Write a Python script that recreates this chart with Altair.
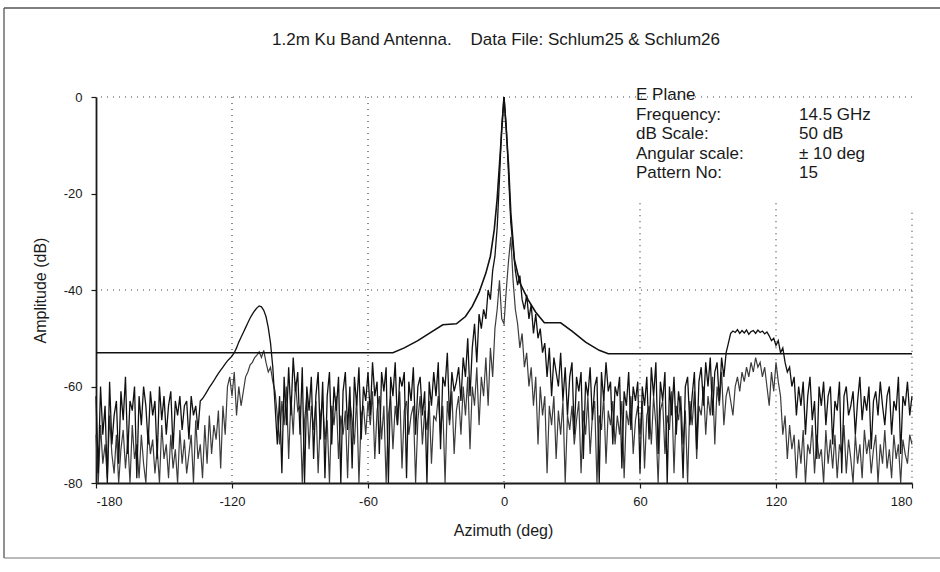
import altair as alt
import pandas as pd

# ---------------- data ----------------
azimuth = list(range(-180, 181))

# trace 1 (Schlum25) - main beam trace, 1 deg steps from -180 to 180
trace1 = [
    -62, -78, -60, -70, -64, -80, -59, -72, -66, -63,      # -180
    -76, -61, -67, -58, -74, -63, -65, -60, -79, -62,      # -170
    -68, -60, -64, -72, -61, -66, -63, -75, -60, -67,      # -160
    -62, -70, -64, -61, -73, -63, -66, -62, -69, -64,      # -150
    -63, -71, -62, -66, -64, -69, -63, -62.5, -61.8, -61,  # -140
    -60.2, -59.5, -58.8, -58, -57.3, -56.6, -56, -55.3, -54.7, -54.2,  # -130
    -53.7, -53, -52, -50.8, -49.8, -48.8, -47.8, -46.8, -45.8, -45,    # -120
    -44.3, -43.7, -43.3, -43.5, -44.2, -45.5, -47.8, -51, -56, -64,    # -110
    -72, -62, -78, -58, -68, -56, -66, -54, -61, -57,      # -100
    -70, -56, -80, -60, -65, -58, -75, -62, -57, -71,      # -90
    -59, -79, -62, -57, -72, -60, -65, -58, -80, -61,      # -80
    -57, -69, -60, -77, -58, -64, -56, -71, -60, -63,      # -70
    -57, -66, -55, -62, -59, -74, -57, -61, -56, -80,      # -60
    -58, -62, -55, -68, -58, -60, -57, -79, -59, -63,      # -50
    -56, -70, -60, -58, -66, -61, -80, -59, -64, -57,      # -40
    -62, -55, -73, -58, -60, -53, -67, -57, -61, -59,      # -30
    -56, -63, -54, -58, -50, -62, -52, -47, -55, -45,      # -20
    -48, -44, -46, -40, -42, -36, -33, -27, -17, -6,       # -10
    0, -6, -16, -26, -31, -36, -39, -37, -42, -44,         # 0
    -41, -46, -43, -49, -45, -50, -48, -53, -51, -58,      # 10
    -52, -62, -54, -57, -60, -53, -63, -56, -66, -58,      # 20
    -55, -70, -58, -61, -57, -75, -59, -62, -56, -67,      # 30
    -60, -58, -80, -57, -63, -55, -61, -59, -72, -60,      # 40
    -62, -58, -77, -61, -64, -57, -69, -60, -63, -59,      # 50
    -78, -60, -64, -58, -71, -56, -62, -55, -74, -59,      # 60
    -63, -57, -80, -60, -66, -58, -70, -61, -65, -79,      # 70
    -60, -58, -68, -62, -57, -73, -59, -56, -64, -55,      # 80
    -60, -54, -66, -57, -55, -63, -54, -58, -53, -51,      # 90
    -49, -48.5, -48.8, -48.2, -49, -48.4, -48.9, -48.3, -49.2, -48.6,  # 100
    -48.4, -49, -48.3, -48.8, -48.5, -49.1, -48.7, -49.5, -50.5, -50,  # 110
    -51.5, -50.5, -53, -52, -55, -57, -56, -60, -58, -66,  # 120
    -60, -64, -59, -70, -62, -58, -67, -63, -75, -60,      # 130
    -64, -59, -68, -62, -60, -72, -63, -65, -59, -78,      # 140
    -62, -60, -66, -64, -61, -70, -63, -58, -67, -62,      # 150
    -65, -60, -73, -63, -61, -66, -59, -64, -68, -62,      # 160
    -60, -70, -63, -65, -58, -74, -62, -64, -59, -66,      # 170
    -62,                                                   # 180
]

# trace 2 (Schlum26) - lower trace
trace2 = [
    -70, -80, -68, -76, -72, -79, -66, -74, -78, -70,      # -180
    -80, -73, -69, -77, -71, -80, -68, -75, -72, -79,      # -170
    -70, -76, -80, -69, -74, -71, -78, -73, -80, -68,      # -160
    -75, -72, -79, -70, -77, -73, -80, -69, -76, -71,      # -150
    -78, -74, -70, -80, -67, -75, -72, -79, -68, -76,      # -140
    -66, -74, -68, -71, -65, -77, -64, -70, -60, -58,      # -130
    -62, -57, -66, -60, -64, -61, -58, -57, -55.5, -55,    # -120
    -54, -53.5, -52.8, -54, -52.5, -55, -57, -56, -59, -61,  # -110
    -66, -72, -63, -68, -60, -75, -62, -70, -59, -65,      # -100
    -64, -80, -67, -62, -73, -64, -69, -63, -78, -66,      # -90
    -63, -71, -67, -80, -64, -68, -62, -75, -66, -70,      # -80
    -65, -79, -63, -67, -72, -62, -80, -66, -64, -70,      # -70
    -63, -68, -61, -75, -65, -62, -71, -64, -80, -66,      # -60
    -62, -73, -64, -68, -61, -77, -65, -63, -70, -66,      # -50
    -64, -80, -67, -62, -72, -65, -69, -63, -76, -66,      # -40
    -67, -62, -70, -64, -80, -63, -68, -61, -74, -65,      # -30
    -62, -70, -60, -66, -58, -73, -60, -64, -56, -68,      # -20
    -58, -62, -54, -64, -52, -58, -48, -44, -38, -46,      # -10
    -47, -40, -34, -29, -38, -44, -47, -52, -49, -56,      # 0
    -53, -60, -56, -64, -58, -72, -60, -66, -62, -78,      # 10
    -64, -68, -62, -75, -65, -70, -63, -80, -66, -69,      # 20
    -64, -72, -67, -63, -78, -65, -70, -62, -74, -66,      # 30
    -63, -80, -66, -69, -62, -76, -65, -68, -63, -72,      # 40
    -66, -70, -63, -79, -65, -68, -62, -74, -67, -64,      # 50
    -70, -63, -77, -66, -64, -72, -62, -68, -80, -65,      # 60
    -63, -74, -66, -69, -61, -78, -64, -67, -62, -72,      # 70
    -65, -80, -63, -68, -61, -75, -64, -66, -60, -70,      # 80
    -62, -66, -58, -72, -60, -64, -57, -68, -62, -60,      # 90
    -63, -66, -60, -58, -61, -57, -59, -56, -58, -55,      # 100
    -57, -54, -56, -55, -58, -56, -60, -64, -57, -61,      # 110
    -55, -59, -62, -70, -66, -75, -68, -73, -70, -79,      # 120
    -71, -76, -69, -80, -72, -74, -68, -78, -70, -75,      # 130
    -73, -80, -69, -76, -71, -77, -70, -79, -72, -74,      # 140
    -68, -78, -71, -75, -80, -70, -76, -72, -79, -69,      # 150
    -74, -71, -78, -73, -70, -80, -72, -76, -69, -77,      # 160
    -73, -79, -70, -75, -72, -80, -71, -74, -76, -70,      # 170
    -72,                                                   # 180
]

# envelope / mask line
env_az = [-180, -49, -44, -38, -33, -27, -21, -17, -14, -11, -8, -6, -4.3, -3, -2, -1, 0,
          1, 2, 3, 4.6, 7, 10.6, 14, 17.8, 25, 30, 36, 42, 46, 180]
env_db = [-53, -53, -52, -50.5, -49, -47.2, -47, -45.5, -43.4, -40.5, -36.5, -33, -27.5, -21, -14, -7, 0,
          -7, -14, -24, -33.7, -38.5, -42, -44.6, -46.8, -46.8, -48.5, -50.8, -52.5, -53.2, -53.2]

x_ticks = [-180, -120, -60, 0, 60, 120, 180]
y_ticks = [-80, -60, -40, -20, 0]
h_grid = [0, -40]
v_grid = [-120, -60, 0, 60, 120, 180]
v_grid_top = [0, 0, 0, -22, -22, -24]

NB = "\u00a0"
title_text = "1.2m Ku Band Antenna." + NB * 4 + "Data File: Schlum25 & Schlum26"
info_labels = "E Plane\nFrequency:\ndB Scale:\nAngular scale:\nPattern No:"
info_values = "\n14.5 GHz\n50 dB\n\u00b1 10 deg\n" + NB + "15"

# ---------------- chart ----------------
FONT = "Liberation Sans"
W, H = 816, 386
INK = "#1a1a1a"

df = pd.DataFrame({"az": azimuth, "t1": trace1, "t2": trace2})
env = pd.DataFrame({"az": env_az, "db": env_db})
hgrid_df = pd.DataFrame({"db": h_grid})
vgrid_df = pd.DataFrame({"az": v_grid, "top": v_grid_top})

xscale = alt.Scale(domain=[-180, 180], nice=False, zero=False)
yscale = alt.Scale(domain=[-80, 0], nice=False, zero=False)

xaxis = alt.Axis(values=x_ticks, title="Azimuth (deg)", grid=False, domainColor=INK,
                 domainWidth=1.8, tickColor=INK, tickSize=5, tickWidth=1.2, labelPadding=7,
                 labelFont=FONT, labelFontSize=13, labelColor=INK, labelExpr="'' + datum.value",
                 titleFont=FONT, titleFontSize=16, titleFontWeight="normal", titleColor=INK,
                 titleX=407, titleY=47, titleBaseline="middle")
yaxis = alt.Axis(values=y_ticks, title="Amplitude (dB)", grid=False, domainColor=INK,
                 domainWidth=1.8, tickColor=INK, tickSize=5, tickWidth=1.2, labelPadding=9,
                 labelFont=FONT, labelFontSize=13, labelColor=INK, labelExpr="'' + datum.value",
                 titleFont=FONT, titleFontSize=16, titleFontWeight="normal", titleColor=INK,
                 titleX=-56, titleY=193, titleBaseline="middle")

X = lambda f: alt.X(f, scale=xscale, axis=xaxis)
Y = lambda f: alt.Y(f, scale=yscale, axis=yaxis)

hgrid = alt.Chart(hgrid_df).mark_rule(color="#444", strokeDash=[1, 5], strokeWidth=1.2).encode(
    y=Y("db:Q"))

vgrid = alt.Chart(vgrid_df).mark_rule(color="#444", strokeDash=[1, 5], strokeWidth=1.2).encode(
    x=X("az:Q"), y=Y("top:Q"), y2=alt.value(H))

base = alt.Chart(df)
line2 = base.mark_line(color="#3c3c3c", strokeWidth=1.2).encode(x=X("az:Q"), y=Y("t2:Q"))
line1 = base.mark_line(color="#111", strokeWidth=1.3).encode(x=X("az:Q"), y=Y("t1:Q"))
envl = alt.Chart(env).mark_line(color="#111", strokeWidth=1.6).encode(x=X("az:Q"), y=Y("db:Q"))

title_mark = alt.Chart(pd.DataFrame({"t": [title_text]})).mark_text(
    align="center", baseline="middle", font=FONT, fontSize=17, color=INK).encode(
    x=alt.value(400), y=alt.value(-57), text="t:N")

info1 = alt.Chart(pd.DataFrame({"t": [info_labels]})).mark_text(
    align="left", baseline="top", lineBreak="\n", lineHeight=19.5, font=FONT, fontSize=17,
    color=INK).encode(x=alt.value(540), y=alt.value(-10), text="t:N")
info2 = alt.Chart(pd.DataFrame({"t": [info_values]})).mark_text(
    align="left", baseline="top", lineBreak="\n", lineHeight=19.5, font=FONT, fontSize=17,
    color=INK).encode(x=alt.value(703), y=alt.value(-10), text="t:N")

# scanned page frame
frame_top = alt.Chart(pd.DataFrame({"k": [0]})).mark_rule(color="#555", strokeWidth=1.3).encode(
    x=alt.value(-92), x2=alt.value(850), y=alt.value(-89))
frame_left = alt.Chart(pd.DataFrame({"k": [0]})).mark_rule(color="#555", strokeWidth=1.3).encode(
    x=alt.value(-92), y=alt.value(-89), y2=alt.value(461))
frame_bottom = alt.Chart(pd.DataFrame({"k": [0]})).mark_rule(color="#777", strokeWidth=1.2).encode(
    x=alt.value(-92), x2=alt.value(850), y=alt.value(461))

chart = alt.layer(hgrid, vgrid, line2, line1, envl, title_mark, info1, info2,
                  frame_top, frame_left, frame_bottom).properties(
    width=W, height=H,
    autosize=alt.AutoSizeParams(type="none"),
    padding={"left": 96, "top": 97, "right": 28, "bottom": 89},
    background="white",
).configure_view(stroke=None)

chart.save("out.html", embed_options={"renderer": "svg", "actions": False})
